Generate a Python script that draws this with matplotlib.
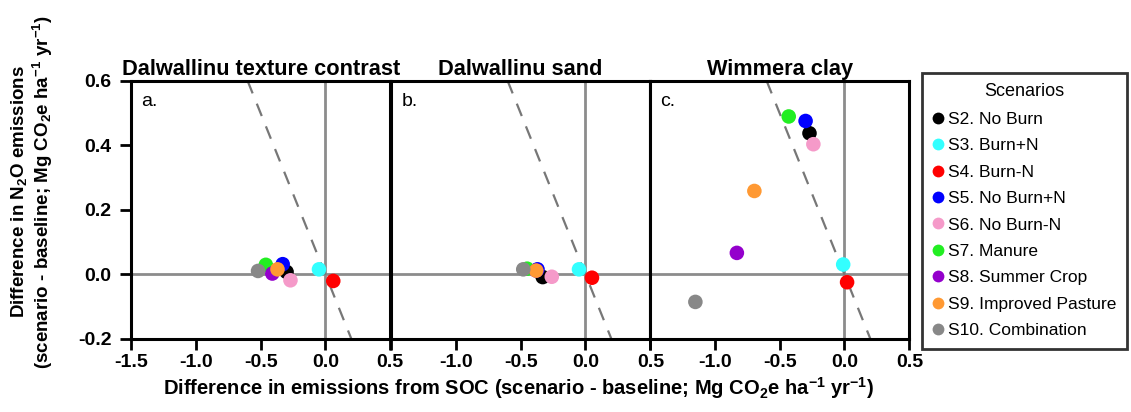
import numpy as np
import matplotlib
matplotlib.use('Agg')
import matplotlib.pyplot as plt
from matplotlib.lines import Line2D

plt.rcParams['font.family'] = ['Liberation Sans', 'DejaVu Sans']
plt.rcParams['mathtext.fontset'] = 'custom'
plt.rcParams['mathtext.rm'] = 'Liberation Sans:bold'
plt.rcParams['mathtext.it'] = 'Liberation Sans:bold'
plt.rcParams['mathtext.bf'] = 'Liberation Sans:bold'
plt.rcParams['axes.unicode_minus'] = False

# Scenario names and colours
scenarios = ['S2. No Burn', 'S3. Burn+N', 'S4. Burn-N', 'S5. No Burn+N', 'S6. No Burn-N',
             'S7. Manure', 'S8. Summer Crop', 'S9. Improved Pasture', 'S10. Combination']
colors = ['#000000', '#33ffff', '#ff0000', '#0000ff', '#f59ac9',
          '#22ee22', '#9400cc', '#ff9933', '#888888']

# Site titles
sites = ['Dalwallinu texture contrast', 'Dalwallinu sand', 'Wimmera clay']
panel_tags = ['a.', 'b.', 'c.']

# Difference in SOC emissions (x) and N2O emissions (y), per site
soc_a = [-0.30, -0.05, 0.06, -0.33, -0.27, -0.46, -0.41, -0.37, -0.52]
n2o_a = [0.008, 0.016, -0.020, 0.032, -0.018, 0.030, 0.003, 0.016, 0.011]
soc_b = [-0.33, -0.05, 0.05, -0.37, -0.26, -0.45, -0.38, -0.38, -0.48]
n2o_b = [-0.008, 0.016, -0.010, 0.016, -0.007, 0.018, 0.012, 0.012, 0.016]
soc_c = [-0.27, -0.01, 0.02, -0.30, -0.24, -0.43, -0.83, -0.695, -1.15]
n2o_c = [0.438, 0.031, -0.024, 0.476, 0.404, 0.490, 0.067, 0.259, -0.085]
soc_all = [soc_a, soc_b, soc_c]
n2o_all = [n2o_a, n2o_b, n2o_c]

# Net-zero line (y = -x)
zero_x = np.array([-0.6, 0.2])

xticks = [-1.5, -1.0, -0.5, 0.0, 0.5]
yticks = [-0.2, 0.0, 0.2, 0.4, 0.6]

fig = plt.figure(figsize=(11.31, 4.12), dpi=100)
lefts = [0.1158, 0.3457, 0.5747]
width = 0.2293
bottom, height = 0.1772, 0.6262

for i in range(3):
    ax = fig.add_axes([lefts[i], bottom, width, height])
    ax.axhline(0, color='#8c8c8c', lw=2, zorder=1)
    ax.axvline(0, color='#8c8c8c', lw=2, zorder=1)
    ax.plot(zero_x, -zero_x, color='#777777', lw=1.6, linestyle=(0, (6, 5)), zorder=1)
    for j in range(len(scenarios)):
        ax.scatter(soc_all[i][j], n2o_all[i][j], s=110, color=colors[j],
                   edgecolor='none', zorder=3)
    ax.set_xlim(-1.5, 0.5)
    ax.set_ylim(-0.2, 0.6)
    ax.set_xticks(xticks)
    if i == 0:
        ax.set_xticklabels([f'{v:.1f}' for v in xticks])
        ax.set_yticks(yticks)
        ax.set_yticklabels([f'{v:.1f}' for v in yticks])
    else:
        ax.set_xticklabels([''] + [f'{v:.1f}' for v in xticks[1:]])
        ax.set_yticks([])
    ax.tick_params(axis='both', direction='out', length=8, width=2,
                   labelsize=14)
    ax.tick_params(axis='y', pad=6)
    ax.tick_params(axis='x', pad=3)
    for lab in ax.get_xticklabels() + ax.get_yticklabels():
        lab.set_fontweight('bold')
    for sp in ax.spines.values():
        sp.set_linewidth(2.2)
        sp.set_color('black')
    ax.set_title(sites[i], fontsize=15.7, fontweight='bold', pad=4)
    ax.text(0.04, 0.955, panel_tags[i], transform=ax.transAxes,
            ha='left', va='top', fontsize=14)

fig.text(0.028, 0.535,
         'Difference in N$_2$O emissions\n(scenario - baseline; Mg CO$_2$e ha$^{-1}$ yr$^{-1}$)',
         rotation=90, ha='center', va='center', fontsize=13.5, fontweight='bold',
         multialignment='center', linespacing=1.1)
fig.text(0.458, 0.058,
         'Difference in emissions from SOC (scenario - baseline; Mg CO$_2$e ha$^{-1}$ yr$^{-1}$)',
         ha='center', va='center', fontsize=14.5, fontweight='bold')

handles = [Line2D([0], [0], marker='o', linestyle='none', markersize=8.5,
                  markerfacecolor=c, markeredgecolor='none', label=s)
           for s, c in zip(scenarios, colors)]
leg = fig.legend(handles=handles, title='Scenarios', loc='upper right',
                 bbox_to_anchor=(0.9965, 0.823), borderaxespad=0,
                 fontsize=12.5, title_fontsize=13, frameon=True, fancybox=False,
                 handlelength=0.6, handletextpad=0.3, labelspacing=0.65,
                 borderpad=0.6, alignment='center')
leg.get_frame().set_edgecolor('black')
leg.get_frame().set_linewidth(2)

fig.savefig('out.png', dpi=100)
